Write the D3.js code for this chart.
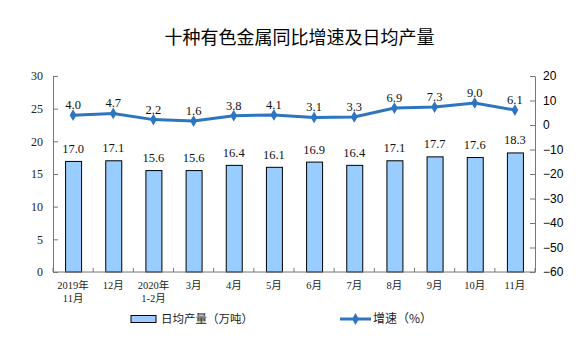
<!DOCTYPE html>
<html><head><meta charset="utf-8">
<script src="https://cdn.jsdelivr.net/npm/d3@7"></script>
<style>
body{margin:0;background:#fff;}
svg{display:block;}
</style></head>
<body><svg id="c" width="576" height="338"></svg>
<script>
const categories = [["2019年","11月"],["12月"],["2020年","1-2月"],["3月"],["4月"],["5月"],["6月"],["7月"],["8月"],["9月"],["10月"],["11月"]];
const output = [17.0,17.1,15.6,15.6,16.4,16.1,16.9,16.4,17.1,17.7,17.6,18.3];
const growth = [4.0,4.7,2.2,1.6,3.8,4.1,3.1,3.3,6.9,7.3,9.0,6.1];
const leftTicks = [0,5,10,15,20,25,30];
const rightTicks = [-60,-50,-40,-30,-20,-10,0,10,20];
const title = "十种有色金属同比增速及日均产量";
const legendBar = "日均产量（万吨）";
const legendLine = "增速（%）";

const svg = d3.select("#c");
const L = 53, R = 535, T = 76, B = 272;
const serif = "'Liberation Serif','Noto Serif CJK SC','Noto Sans CJK SC',serif";
const cjk = "'Liberation Serif','Noto Sans CJK SC',serif";
const idx = d3.range(categories.length);
const x = d3.scaleBand().domain(idx).range([L, R]).paddingInner(0).paddingOuter(0);
const yL = d3.scaleLinear().domain([0,30]).range([B,T]);
const yR = d3.scaleLinear().domain([-60,20]).range([B,T]);

svg.append("text").attr("x",299.5).attr("y",43.5).attr("text-anchor","middle")
  .attr("font-family","'Noto Sans CJK SC',sans-serif").attr("font-size",18).attr("fill","#000").text(title);

// bars
const bw = 16;
svg.selectAll("rect.bar").data(output).enter().append("rect")
  .attr("x",(d,i)=>x(i)+x.bandwidth()/2-bw/2+0.5).attr("y",d=>yL(d)+0.5)
  .attr("width",bw).attr("height",d=>B-yL(d)-0.5)
  .attr("fill","#99CCFF").attr("stroke","#000").attr("stroke-width",1);
svg.selectAll("text.bl").data(output).enter().append("text")
  .attr("x",(d,i)=>x(i)+x.bandwidth()/2).attr("y",d=>yL(d)-8)
  .attr("text-anchor","middle").attr("font-family",serif).attr("font-size",12.5).attr("fill","#111")
  .text(d=>d.toFixed(1));

// axes
const gL = svg.append("g").attr("transform",`translate(${L},0)`)
  .call(d3.axisLeft(yL).tickValues(leftTicks).tickSizeInner(-5).tickSizeOuter(0).tickPadding(10));
gL.selectAll("text").attr("font-family",serif).attr("font-size",12).attr("fill","#222");
const gR = svg.append("g").attr("transform",`translate(${R},0)`)
  .call(d3.axisRight(yR).tickValues(rightTicks).tickSizeInner(-5).tickSizeOuter(0).tickPadding(8));
gR.selectAll("text").attr("font-family","'Liberation Sans',Arial,sans-serif").attr("font-size",12).attr("fill","#000");
[gL,gR].forEach(g=>{g.selectAll("path,line").attr("stroke","#777");});

const gX = svg.append("g").attr("transform",`translate(0,${B})`);
gX.append("line").attr("x1",L).attr("x2",R).attr("stroke","#777");
gX.selectAll("line.tk").data(d3.range(categories.length+1)).enter().append("line")
  .attr("x1",i=>L+i*x.bandwidth()).attr("x2",i=>L+i*x.bandwidth()).attr("y1",0).attr("y2",-4).attr("stroke","#777");
categories.forEach((c,i)=>{
  c.forEach((s,j)=>{
    gX.append("text").attr("x",x(i)+x.bandwidth()/2).attr("y",17+j*13)
      .attr("text-anchor","middle").attr("font-family",cjk).attr("font-size",10.5).attr("fill","#222").text(s);
  });
});

// line
const line = d3.line().x((d,i)=>x(i)+x.bandwidth()/2).y(d=>yR(d));
svg.append("path").datum(growth).attr("d",line).attr("fill","none").attr("stroke","#2E75C0").attr("stroke-width",3);
const diamond = d3.symbol().type(d3.symbolDiamond).size(40);
svg.selectAll("path.pt").data(growth).enter().append("path")
  .attr("d",diamond).attr("transform",(d,i)=>`translate(${x(i)+x.bandwidth()/2},${yR(d)})`).attr("fill","#2E75C0");
svg.selectAll("text.ll").data(growth).enter().append("text")
  .attr("x",(d,i)=>x(i)+x.bandwidth()/2).attr("y",d=>yR(d)-6)
  .attr("text-anchor","middle").attr("font-family",serif).attr("font-size",12.5).attr("fill","#111")
  .text(d=>d.toFixed(1));

// legend
svg.append("rect").attr("x",131).attr("y",315.5).attr("width",25).attr("height",7).attr("fill","#99CCFF").attr("stroke","#000");
svg.append("text").attr("x",161).attr("y",323).attr("font-family","'Noto Sans CJK SC',sans-serif").attr("font-size",11.5).attr("fill","#222").text(legendBar);
svg.append("line").attr("x1",340).attr("x2",371).attr("y1",319).attr("y2",319).attr("stroke","#2E75C0").attr("stroke-width",3);
svg.append("path").attr("d",diamond).attr("transform","translate(355.5,319)").attr("fill","#2E75C0");
svg.append("text").attr("x",373).attr("y",323).attr("font-family","'Noto Sans CJK SC',sans-serif").attr("font-size",12).attr("fill","#222").text(legendLine);
</script></body></html>
